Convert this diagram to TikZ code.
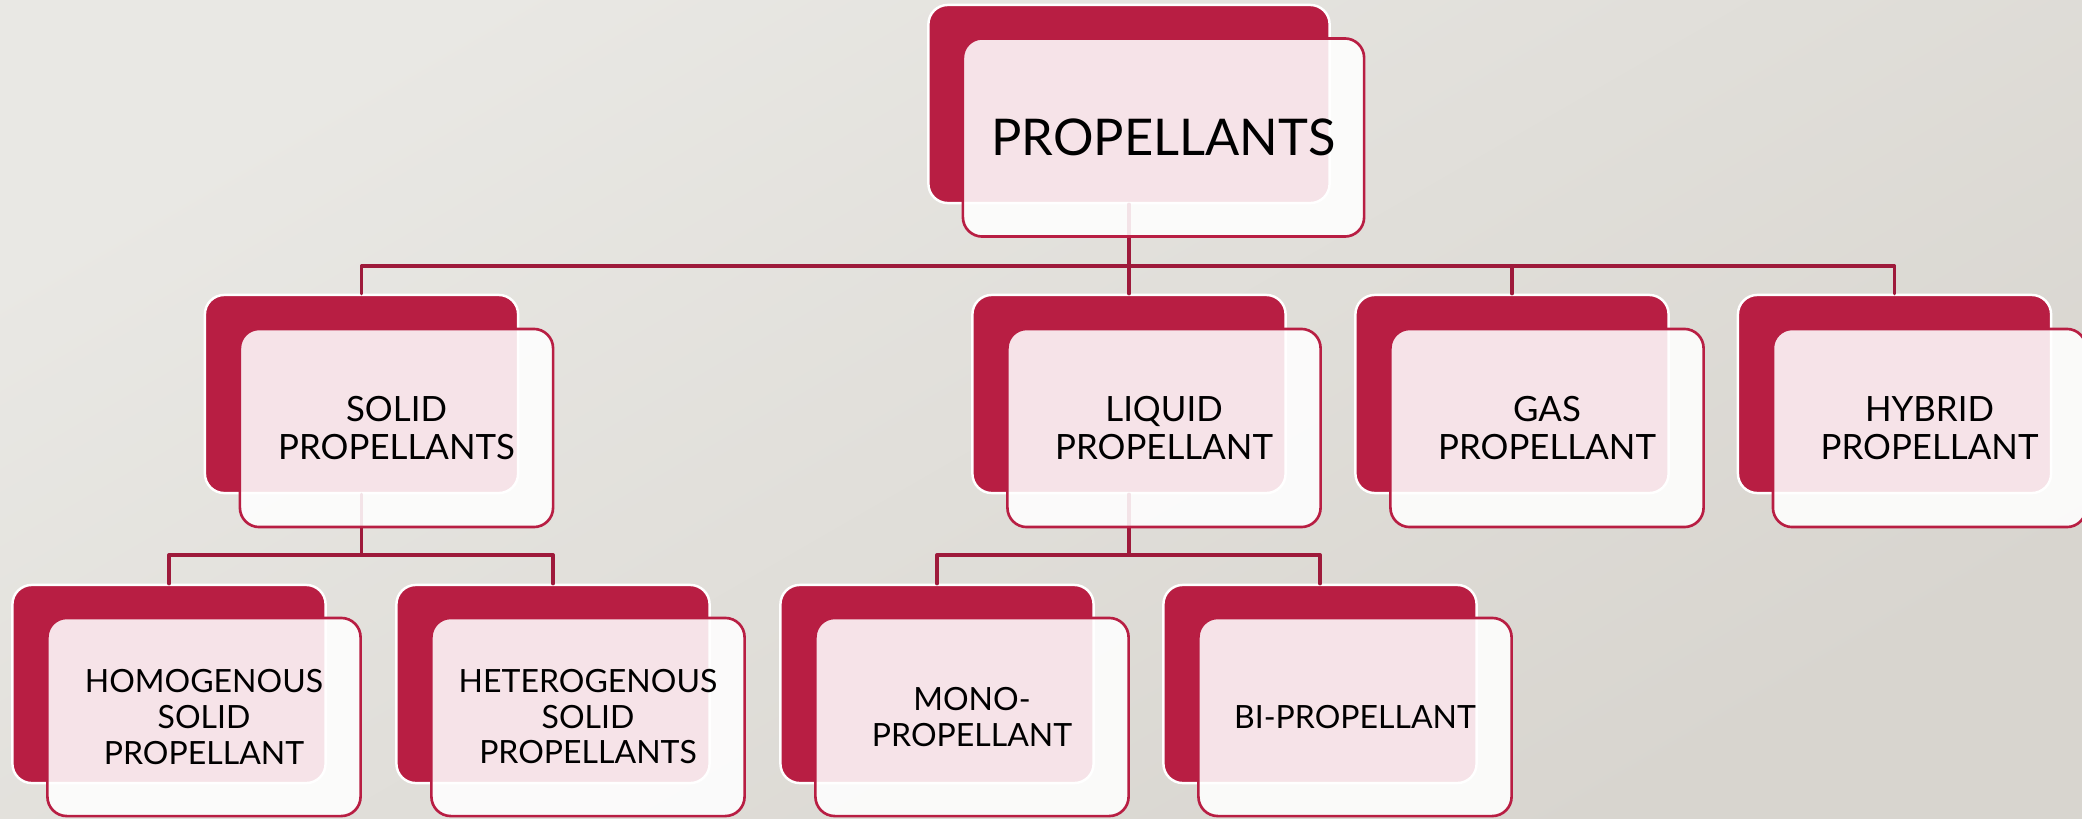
\documentclass[tikz,border=0pt]{standalone}
\usepackage{fontspec}
\setmainfont{Lato}
\usetikzlibrary{positioning}
\definecolor{propred}{HTML}{B81E43}
\definecolor{linkred}{HTML}{9E1A3B}
\definecolor{bgtop}{HTML}{E9E8E4}
\definecolor{bgbot}{HTML}{D8D5CF}

\begin{document}
\begin{tikzpicture}[line cap=round,line join=round,x=0.01cm,y=-0.01cm,
  backbox/.style={fill=propred,draw=white,line width=0.7pt,rounded corners=5.5pt,minimum width=3.13cm,minimum height=1.98cm,inner sep=0pt},
  frontbox/.style={fill=white,fill opacity=0.88,text opacity=1,draw=propred,line width=0.75pt,rounded corners=5.5pt,minimum width=3.13cm,minimum height=1.98cm,align=center,inner sep=0pt,font=\fontsize{9.9}{10.7}\selectfont},
  leafbox/.style={frontbox,font=\fontsize{9.1}{10.1}\selectfont},
  link/.style={draw=linkred,line width=0.95pt}]
\useasboundingbox (0,0) rectangle (2082,818);
\shade [top color=bgtop,bottom color=bgbot,shading angle=30] (0,0) rectangle (2082,818);
% back boxes
\node [backbox,minimum width=4.01cm] (top-back) at (1129,104) {};
\node [backbox] (solid-back) at (361.5,394) {};
\node [backbox] (liquid-back) at (1129,394) {};
\node [backbox] (gas-back) at (1512,394) {};
\node [backbox] (hybrid-back) at (1894.5,394) {};
\node [backbox] (homog-back) at (169,684) {};
\node [backbox] (heterog-back) at (553,684) {};
\node [backbox] (mono-back) at (937,684) {};
\node [backbox] (bi-back) at (1320,684) {};
% connectors
\coordinate (bus1) at (1129,266);
\coordinate (bus2) at (361.5,555);
\coordinate (bus3) at (1129,555);
\draw [link] (top-back.south) -- (bus1);
\draw [link] (solid-back.north) |- (hybrid-back.north |- bus1) -- (hybrid-back.north);
\draw [link] (liquid-back.north) -- (liquid-back.north |- bus1);
\draw [link] (gas-back.north) -- (gas-back.north |- bus1);
\draw [link] (solid-back.south) -- (bus2);
\draw [link] (homog-back.north) |- (bus2) -| (heterog-back.north);
\draw [link] (liquid-back.south) -- (bus3);
\draw [link] (mono-back.north) |- (bus3) -| (bi-back.north);
% front boxes
\node [frontbox,minimum width=4.01cm,font=\fontsize{14.4}{16}\selectfont] (top) at (1163.5,137.5) {PROPELLANTS};
\node [frontbox] (solid) at (396.5,428) {SOLID\\PROPELLANTS};
\node [frontbox] (liquid) at (1164,428) {LIQUID\\PROPELLANT};
\node [frontbox] (gas) at (1547,428) {GAS\\PROPELLANT};
\node [frontbox] (hybrid) at (1929.5,428) {HYBRID\\PROPELLANT};
\node [leafbox] (homog) at (204,717) {HOMOGENOUS\\SOLID\\PROPELLANT};
\node [leafbox] (heterog) at (588,717) {HETEROGENOUS\\SOLID\\PROPELLANTS};
\node [leafbox] (mono) at (972,717) {MONO-\\PROPELLANT};
\node [leafbox] (bi) at (1355,717) {BI-PROPELLANT};
\end{tikzpicture}
\end{document}
